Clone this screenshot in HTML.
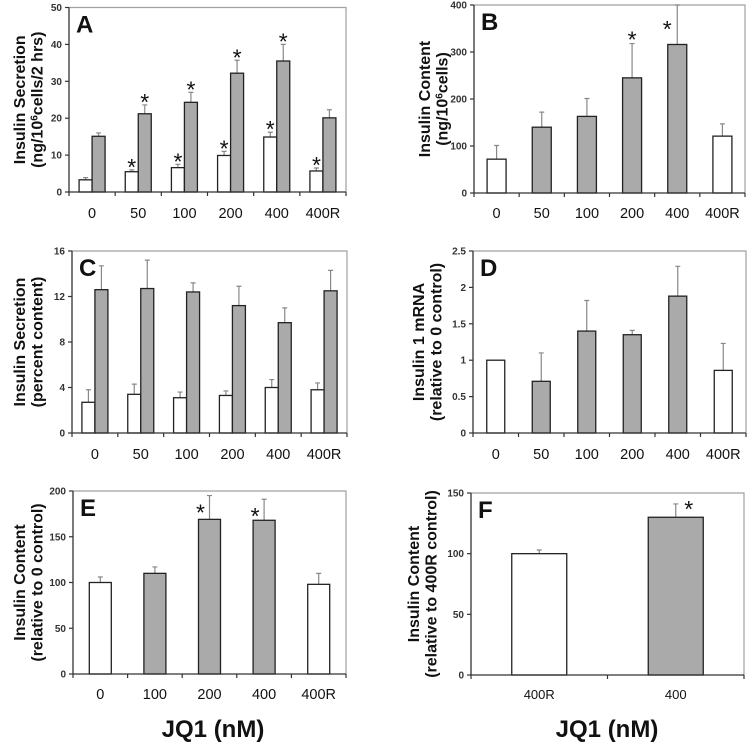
<!DOCTYPE html>
<html><head><meta charset="utf-8"><style>
html,body{margin:0;padding:0;background:#fff}
svg{display:block;font-family:"Liberation Sans",Arial,sans-serif}
</style></head><body>
<svg id="fig" width="748" height="749" viewBox="0 0 748 749" xmlns="http://www.w3.org/2000/svg"></svg>
<script>
// ---- Panel A data ----
const catsA = ["0","50","100","200","400","400R"];
const whiteA = [3.3,5.5,6.6,9.9,14.9,5.7];
const whiteErrA = [3.9,6.0,7.5,11.0,16.2,6.5];
const grayA = [15.1,21.2,24.3,32.2,35.5,20.1];
const grayErrA = [16.0,23.6,27.0,35.7,40.0,22.3];
const whiteStarA = [0,1,1,1,1,1];
const grayStarA = [0,1,1,1,1,0];
const ticksA = [0,10,20,30,40,50];
// ---- Panel B data ----
const catsB = ["0","50","100","200","400","400R"];
const valsB = [72,140,163,245,316,121];
const errB = [101,172,201,318,400,147];
const fillB = [0,1,1,1,1,0];
const starB = [0,0,0,1,1,0];
const ticksB = [0,100,200,300,400];
// ---- Panel C data ----
const catsC = ["0","50","100","200","400","400R"];
const whiteC = [2.7,3.4,3.1,3.3,4.0,3.8];
const whiteErrC = [3.8,4.3,3.6,3.7,4.7,4.4];
const grayC = [12.6,12.7,12.4,11.2,9.7,12.5];
const grayErrC = [14.7,15.2,13.2,12.9,11.0,14.3];
const ticksC = [0,4,8,12,16];
// ---- Panel D data ----
const catsD = ["0","50","100","200","400","400R"];
const valsD = [1.0,0.71,1.4,1.35,1.88,0.86];
const errD = [1.0,1.1,1.82,1.41,2.29,1.23];
const fillD = [0,1,1,1,1,0];
const ticksD = [0,0.5,1,1.5,2,2.5];
// ---- Panel E data ----
const catsE = ["0","100","200","400","400R"];
const valsE = [100,110,169,168,98];
const errE = [106,117,195,191,110];
const fillE = [0,1,1,1,0];
const starE = [0,0,1,1,0];
const ticksE = [0,50,100,150,200];
// ---- Panel F data ----
const catsF = ["400R","400"];
const valsF = [100,130];
const errF = [103,141];
const fillF = [0,1];
const starF = [0,1];
const ticksF = [0,50,100,150];

const svg = document.getElementById('fig');
const NS = 'http://www.w3.org/2000/svg';
function mk(tag, attrs, parent, text){
  const e = document.createElementNS(NS, tag);
  for (const k in attrs) e.setAttribute(k, attrs[k]);
  if (text !== undefined) e.textContent = text;
  (parent || svg).appendChild(e);
  return e;
}

function panel(o){
  const g = mk('g', {});
  
  
  const {x0,x1,y0,y1,max,cats} = o;
  const ys = v => y1 - (v/max)*(y1-y0);
  const cw = (x1-x0)/cats.length;
  const cx = i => x0 + cw*(i+0.5);
  const sdx = o.starDx || 0, sdy = (o.starDy === undefined ? 5 : o.starDy);
  const fr = mk('path', {d:`M${x0} ${y0}H${x1}V${y1}`, stroke:'#a0a0a0', 'stroke-width':1.2, fill:'none'}, g);
  
  
  o.ticks.forEach(t => {
    const y = ys(t);
    mk('line', {x1:x0-4, x2:x0, y1:y, y2:y, stroke:'#333', 'stroke-width':1.2}, g);
    const tl = mk('text', {x:x0-7, y:y+3.5, 'text-anchor':'end', 'font-size':10, 'font-weight':'bold', fill:'#333'}, g, String(t));
    
    
  });
  for (let i=0;i<=cats.length;i++){
    const x = x0 + cw*i;
    mk('line', {x1:x, x2:x, y1:y1, y2:y1+4, stroke:'#333', 'stroke-width':1.2}, g);
  }
  cats.forEach((c,i)=>{
    const cl = mk('text', {x:cx(i), y:o.labelY, 'text-anchor':'middle', 'font-size':o.catFont||14.5, fill:'#111'}, g, c);
    
    
  });
  function bar(x, w, v, e, fill, star, name){
    const ey = Math.max(ys(e), y0);
    const eb = mk('path', {d:`M${x+w/2} ${ys(v)}V${ey}M${x+w/2-2.5} ${ey}H${x+w/2+2.5}`, stroke:'#888', 'stroke-width':1.2, fill:'none'}, g);
    
    
    const r = mk('rect', {x:x, y:ys(v), width:w, height:y1-ys(v), fill: fill ? '#aaaaaa' : '#ffffff', stroke:'#222', 'stroke-width':1.3}, g);
    
    
    if (star){
      let sx = x + w/2 + sdx, sy = ys(e) + sdy;
      if (ys(e) <= y0 + 1) { sx = x + w/2 - 10; sy = y0 + 32; }
      const s = mk('text', {x:sx, y:sy, 'text-anchor':'middle', 'font-size':23, fill:'#111'}, g, '*');
      
      
    }
  }
  const bw = o.bw;
  if (o.paired){
    cats.forEach((c,i)=>{
      bar(cx(i)-bw, bw, o.white[i], o.whiteErr[i], 0, o.whiteStar && o.whiteStar[i], 'bar-white-' + c);
      bar(cx(i), bw, o.gray[i], o.grayErr[i], 1, o.grayStar && o.grayStar[i], 'bar-gray-' + c);
    });
  } else {
    cats.forEach((c,i)=>{
      bar(cx(i)-bw/2, bw, o.vals[i], o.err[i], o.fill[i], o.star && o.star[i], 'bar-' + c);
    });
  }
  mk('path', {d:`M${x0} ${y0}V${y1}H${x1}`, stroke:'#333', 'stroke-width':1.3, fill:'none'}, g);
  const L = mk('text', {x:x0+7, y:y0+25, 'font-size':24, 'font-weight':'bold', fill:'#111'}, g, o.letter);
  
  
  const cy = (y0+y1)/2;
  const t = mk('text', {transform:`translate(${o.tx},${cy}) rotate(-90)`, 'text-anchor':'middle', 'font-size':16, 'font-weight':'bold', fill:'#111'}, g);
  
  
  o.title.forEach((line, k)=>{
    const ts = mk('tspan', {x:0, dy: k===0 ? '0' : '17.5'}, t);
    line.forEach(p => {
      if (typeof p === 'string') ts.appendChild(document.createTextNode(p));
      else mk('tspan', {'baseline-shift':'super', 'font-size':10}, ts, p.sup);
    });
  });
  return g;
}

panel({letter:'A', x0:69, x1:346, y0:7.5, y1:192, max:50, cats:catsA, ticks:ticksA, paired:true, bw:13,
  white:whiteA, whiteErr:whiteErrA, gray:grayA, grayErr:grayErrA, whiteStar:whiteStarA, grayStar:grayStarA,
  labelY:218, tx:25, title:[["Insulin Secretion"],["(ng/10",{sup:"6"},"cells/2 hrs)"]]});
panel({letter:'B', x0:474, x1:745, y0:5, y1:193, max:400, cats:catsB, ticks:ticksB, bw:19, starDy:4,
  vals:valsB, err:errB, fill:fillB, star:starB, labelY:218, tx:430, title:[["Insulin Content"],["(ng/10",{sup:"6"},"cells)"]]});
panel({letter:'C', x0:72, x1:347, y0:251, y1:433, max:16, cats:catsC, ticks:ticksC, paired:true, bw:13,
  white:whiteC, whiteErr:whiteErrC, gray:grayC, grayErr:grayErrC, labelY:459, tx:25, title:[["Insulin Secretion"],["(percent content)"]]});
panel({letter:'D', x0:473, x1:746, y0:251, y1:433, max:2.5, cats:catsD, ticks:ticksD, bw:18,
  vals:valsD, err:errD, fill:fillD, labelY:459, tx:424, title:[["Insulin 1 mRNA"],["(relative to 0 control)"]]});
panel({letter:'E', x0:73, x1:346, y0:491, y1:674, max:200, cats:catsE, ticks:ticksE, bw:22, starDx:-9, starDy:25,
  vals:valsE, err:errE, fill:fillE, star:starE, labelY:699, tx:25, title:[["Insulin Content"],["(relative to 0 control)"]]});
panel({letter:'F', x0:471, x1:744, y0:493, y1:675, max:150, cats:catsF, ticks:ticksF, bw:55, catFont:13, starDx:13, starDy:13,
  vals:valsF, err:errF, fill:fillF, star:starF, labelY:699, tx:419, title:[["Insulin Content"],["(relative to 400R control)"]]});

const j1 = mk('text', {x:213, y:737, 'text-anchor':'middle', 'font-size':24, 'font-weight':'bold', fill:'#111'}, svg, 'JQ1 (nM)');


const j2 = mk('text', {x:607, y:737, 'text-anchor':'middle', 'font-size':24, 'font-weight':'bold', fill:'#111'}, svg, 'JQ1 (nM)');


</script>
</body></html>
